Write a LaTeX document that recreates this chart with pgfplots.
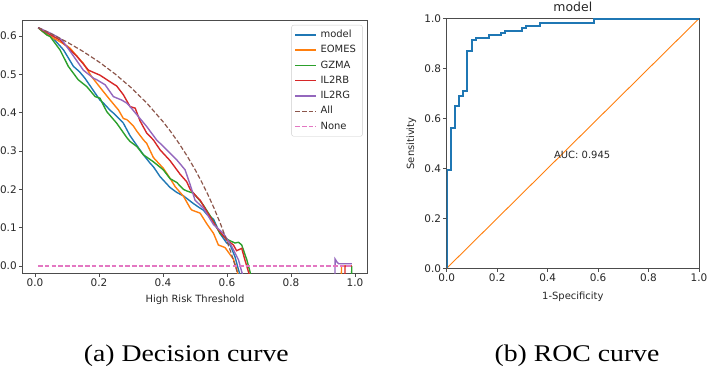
\documentclass[border=0pt]{standalone}
\usepackage{fontspec}
\setmainfont{DejaVu Sans}
\newfontfamily\capfont{Liberation Serif}
\usepackage{graphicx}
\usepackage{pgfplots}
\pgfplotsset{compat=1.18}

\definecolor{tabblue}{HTML}{1F77B4}
\definecolor{taborange}{HTML}{FF7F0E}
\definecolor{tabgreen}{HTML}{2CA02C}
\definecolor{tabred}{HTML}{D62728}
\definecolor{tabpurple}{HTML}{9467BD}
\definecolor{tabbrown}{HTML}{8C564B}
\definecolor{tabpink}{HTML}{E377C2}

\pgfplotsset{
  mplaxis/.style={
    scale only axis,
    axis line style={black!70, line width=0.8bp},
    tick style={black!70, line width=0.8bp},
    tick align=outside,
    major tick length=3.5bp,
    xtick pos=bottom, ytick pos=left,
    tick label style={font=\fontsize{10.5}{12}\selectfont, text=black!85, inner sep=2bp},
    label style={font=\fontsize{10}{12}\selectfont, text=black!85},
    /pgf/number format/assume math mode=true,
    /pgf/number format/.cd, fixed, fixed zerofill, precision=1, /pgfplots/.cd,
    clip=true,
  },
  dcaline/.style={line width=1.4bp},
  refline/.style={line width=1.2bp, dash pattern=on 4.5bp off 2.2bp},
}

\begin{document}
\begin{tikzpicture}
\useasboundingbox (0bp,0bp) rectangle (708bp,370bp);

% ---------------- Decision curve ----------------
\begin{axis}[
  mplaxis,
  at={(22.4bp,96.7bp)}, anchor=south west,
  width=345.2bp, height=253.3bp,
  xmin=-0.0395, xmax=1.0395, ymin=-0.019, ymax=0.642,
  xtick={0,0.2,0.4,0.6,0.8,1.0},
  ytick={0,0.1,0.2,0.3,0.4,0.5,0.6},
  xlabel={High Risk Threshold},
  xlabel style={at={(axis description cs:0.5,0)}, anchor=base, yshift=-29.5bp, inner sep=0pt},
  legend cell align=left,
  legend image code/.code={\draw[#1] (0bp,0bp) -- (21bp,0bp);},
  legend style={
    at={(axis description cs:1,1)}, anchor=north east,
    xshift=-5bp, yshift=-5bp,
    draw=black!20, rounded corners=2bp, fill=white,
    font=\fontsize{10}{12}\selectfont, text=black!85,
    inner xsep=3bp, inner ysep=2bp, row sep=0bp,
    nodes={inner ysep=3bp, inner xsep=3.5bp, text height=7.3bp, text depth=2bp},
  },
]
% model
\addplot[tabblue, dcaline] coordinates {
(0.010,0.622) (0.024,0.612) (0.057,0.594) (0.074,0.578) (0.089,0.564) (0.120,0.521)
(0.139,0.507) (0.156,0.490) (0.188,0.451) (0.203,0.433) (0.214,0.425) (0.234,0.407)
(0.245,0.399) (0.276,0.373) (0.297,0.340) (0.328,0.303) (0.339,0.290) (0.360,0.268)
(0.370,0.259) (0.391,0.233) (0.422,0.205) (0.443,0.192) (0.464,0.183) (0.495,0.163)
(0.516,0.151) (0.526,0.146) (0.537,0.135) (0.558,0.122) (0.578,0.085) (0.599,0.060)
(0.610,0.055) (0.625,0.024) (0.636,-0.010) (0.654,-0.060) (0.990,-0.060)
};
\addlegendentry{model}
% EOMES
\addplot[taborange, dcaline] coordinates {
(0.010,0.622) (0.034,0.605) (0.068,0.590) (0.099,0.575) (0.110,0.568) (0.141,0.538)
(0.151,0.529) (0.177,0.494) (0.209,0.460) (0.235,0.433) (0.261,0.407) (0.276,0.385)
(0.287,0.382) (0.307,0.366) (0.318,0.352) (0.339,0.329) (0.349,0.320) (0.370,0.283)
(0.401,0.255) (0.422,0.229) (0.438,0.207) (0.464,0.182) (0.485,0.151) (0.490,0.146)
(0.516,0.138) (0.537,0.110) (0.558,0.085) (0.573,0.055) (0.594,0.048) (0.620,0.018)
(0.631,-0.010) (0.644,-0.060) (0.957,-0.060) (0.958,0.000) (0.990,0.000)
};
\addlegendentry{EOMES}
% GZMA
\addplot[tabgreen, dcaline] coordinates {
(0.010,0.622) (0.037,0.603) (0.047,0.599) (0.078,0.564) (0.104,0.521) (0.135,0.486)
(0.162,0.468) (0.188,0.442) (0.203,0.438) (0.224,0.403) (0.255,0.373) (0.266,0.360)
(0.287,0.335) (0.297,0.325) (0.318,0.312) (0.339,0.290) (0.370,0.272) (0.401,0.251)
(0.422,0.228) (0.443,0.218) (0.464,0.200) (0.474,0.196) (0.495,0.190) (0.516,0.170)
(0.526,0.159) (0.552,0.125) (0.578,0.085) (0.604,0.068) (0.625,0.060) (0.636,0.062)
(0.646,0.055) (0.662,0.016) (0.672,-0.015) (0.684,-0.060) (0.989,-0.060) (0.990,0.000)
};
\addlegendentry{GZMA}
% IL2RB
\addplot[tabred, dcaline] coordinates {
(0.010,0.622) (0.058,0.599) (0.078,0.590) (0.099,0.573) (0.131,0.547) (0.167,0.511)
(0.203,0.498) (0.245,0.475) (0.255,0.470) (0.276,0.447) (0.297,0.416) (0.313,0.412)
(0.328,0.379) (0.349,0.347) (0.370,0.329) (0.391,0.303) (0.422,0.275) (0.453,0.240)
(0.474,0.220) (0.485,0.200) (0.505,0.181) (0.516,0.172) (0.537,0.142) (0.568,0.100)
(0.599,0.068) (0.620,0.055) (0.630,0.040) (0.646,0.046) (0.656,0.016) (0.667,-0.015)
(0.684,-0.060) (0.968,-0.060) (0.969,0.000) (0.990,0.000)
};
\addlegendentry{IL2RB}
% IL2RG
\addplot[tabpurple, dcaline] coordinates {
(0.010,0.622) (0.047,0.608) (0.068,0.599) (0.084,0.590) (0.110,0.560) (0.151,0.511)
(0.183,0.490) (0.193,0.486) (0.219,0.473) (0.245,0.442) (0.271,0.433) (0.287,0.425)
(0.297,0.416) (0.323,0.390) (0.349,0.364) (0.380,0.329) (0.412,0.303) (0.443,0.277)
(0.469,0.251) (0.485,0.212) (0.500,0.172) (0.526,0.151) (0.558,0.108) (0.589,0.085)
(0.615,0.051) (0.636,0.016) (0.646,-0.015) (0.664,-0.060) (0.937,-0.060) (0.938,0.018)
(0.944,0.010) (0.949,0.006) (0.990,0.006)
};
\addlegendentry{IL2RG}
% treat all
\addplot[tabbrown, refline] coordinates {
(0.01,0.6222) (0.05,0.6063) (0.10,0.5844) (0.15,0.5600) (0.20,0.5325) (0.25,0.5013)
(0.30,0.4657) (0.35,0.4246) (0.40,0.3767) (0.425,0.3496) (0.45,0.3200) (0.475,0.2876)
(0.50,0.2520) (0.52,0.2208) (0.54,0.1870) (0.56,0.1500) (0.58,0.1095) (0.60,0.0650)
(0.61,0.0410) (0.62,0.0158) (0.63,-0.0108) (0.64,-0.0389)
};
\addlegendentry{All}
% treat none
\addplot[tabpink, refline] coordinates {
(0.01,0) (0.99,0)
};
\addlegendentry{None}
\end{axis}

% ---------------- ROC curve ----------------
\begin{axis}[
  mplaxis,
  at={(446.7bp,101.7bp)}, anchor=south west,
  width=252.3bp, height=249.7bp,
  xmin=0, xmax=1, ymin=0, ymax=1,
  xtick={0,0.2,0.4,0.6,0.8,1.0},
  ytick={0,0.2,0.4,0.6,0.8,1.0},
  title={model},
  title style={at={(axis description cs:0.5,1)}, anchor=base, yshift=1bp, inner sep=0pt,
    font=\fontsize{12.5}{14}\selectfont, text=black!85},
  xlabel={1-Specificity},
  xlabel style={at={(axis description cs:0.5,0)}, anchor=base, yshift=-31bp, inner sep=0pt},
  ylabel={Sensitivity},
  ylabel style={at={(axis description cs:0,0.5)}, anchor=base, yshift=32.5bp, inner sep=0pt},
]
\addplot[taborange, line width=0.9bp] coordinates {(0,0) (1,1)};
\addplot[tabblue, line width=2bp] coordinates {
(0,0) (0,0.393) (0.017,0.393) (0.017,0.560) (0.034,0.560) (0.034,0.650)
(0.050,0.650) (0.050,0.689) (0.066,0.689) (0.066,0.712) (0.082,0.712) (0.082,0.871)
(0.100,0.871) (0.100,0.913) (0.117,0.913) (0.117,0.922) (0.167,0.922) (0.167,0.933)
(0.216,0.933) (0.216,0.942) (0.233,0.942) (0.233,0.952) (0.300,0.952) (0.300,0.962)
(0.316,0.962) (0.316,0.972) (0.368,0.972) (0.368,0.981) (0.584,0.981) (0.584,1.0)
(1.0,1.0)
};
\node[anchor=west, inner sep=0pt, font=\fontsize{10}{12}\selectfont, text=black!85]
  at (axis cs:0.425,0.454) {AUC: 0.945};
\end{axis}

\node[anchor=base, inner sep=0pt, font=\capfont\fontsize{24}{28}\selectfont]
  at (186.3bp,9bp) {\scalebox{1.16}[1]{(a) Decision curve}};
\node[anchor=base, inner sep=0pt, font=\capfont\fontsize{24}{28}\selectfont]
  at (577bp,9bp) {\scalebox{1.16}[1]{(b) ROC curve}};
\end{tikzpicture}
\end{document}
